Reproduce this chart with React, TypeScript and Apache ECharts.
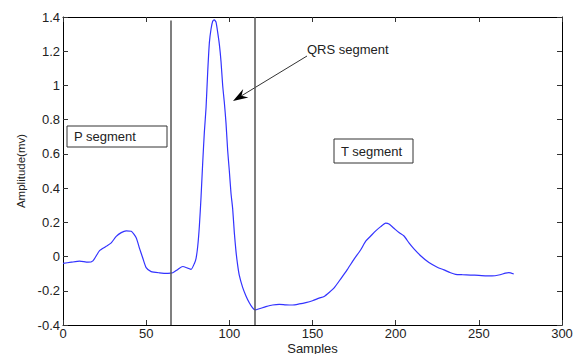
import React, { useEffect, useRef } from "react";
import * as echarts from "echarts";

const samples = [0, 5, 10, 15, 18, 22, 26, 29, 32, 35, 38, 41, 44, 46, 48, 50, 53, 58, 63, 66, 69, 72, 75, 77, 79, 80, 81, 82, 83, 84, 85, 86, 87, 88, 89, 90, 91, 92, 93, 94, 95, 96, 97, 98, 99, 100, 101, 102, 103, 104, 105, 106, 108, 110, 112, 114, 115.5, 118, 122, 126, 130, 134, 138, 142, 146, 150, 154, 157, 160, 163, 167, 171, 175, 179, 182, 185, 188, 191, 194, 196, 199, 202, 205, 208, 211, 215, 220, 225, 229, 233, 236, 240, 245, 250, 255, 258, 262, 266, 268, 271];
const amplitude = [-0.04, -0.033, -0.027, -0.033, -0.025, 0.035, 0.06, 0.08, 0.118, 0.14, 0.15, 0.148, 0.11, 0.048, -0.01, -0.065, -0.088, -0.095, -0.098, -0.095, -0.075, -0.058, -0.068, -0.075, -0.04, -0.01, 0.06, 0.18, 0.35, 0.55, 0.73, 0.87, 1.08, 1.25, 1.33, 1.375, 1.383, 1.37, 1.31, 1.24, 1.14, 1.0, 0.9, 0.78, 0.62, 0.5, 0.37, 0.28, 0.14, 0.03, -0.05, -0.11, -0.18, -0.23, -0.27, -0.3, -0.312, -0.305, -0.293, -0.283, -0.279, -0.282, -0.283, -0.277, -0.269, -0.258, -0.243, -0.233, -0.21, -0.183, -0.13, -0.075, -0.015, 0.04, 0.09, 0.12, 0.15, 0.175, 0.195, 0.19, 0.165, 0.14, 0.12, 0.08, 0.045, 0.005, -0.035, -0.062, -0.078, -0.095, -0.104, -0.106, -0.108, -0.11, -0.113, -0.113, -0.108, -0.097, -0.094, -0.102];
const segmentBounds = [65, 115];
const segmentTops = [1.38, 1.4];
const xTicks = [0, 50, 100, 150, 200, 250, 300];
const yTicks = [-0.4, -0.2, 0, 0.2, 0.4, 0.6, 0.8, 1, 1.2, 1.4];

const FONT = "Liberation Sans, Arial, sans-serif";

export default function App() {
  const ref = useRef<HTMLDivElement>(null);
  useEffect(() => {
    if (!ref.current) return;
    const chart = echarts.init(ref.current, undefined, { renderer: "svg" });
    const data = samples.map((s, i) => [s, amplitude[i]]);
    const axisLine = { show: true, onZero: false, lineStyle: { color: "#000", width: 1 } };
    const tick = { show: true, inside: true, length: 5, lineStyle: { color: "#333" } };
    const yMin = yTicks[0];
    const yMax = yTicks[yTicks.length - 1];
    const xMin = xTicks[0];
    const xMax = xTicks[xTicks.length - 1];
    chart.setOption({
      animation: false,
      backgroundColor: "#fff",
      grid: { left: 63, right: 18, top: 17, bottom: 29, containLabel: false, outerBoundsMode: "none" },
      xAxis: [
        {
          type: "value", min: xMin, max: xMax, interval: 50, position: "bottom",
          name: "Samples", nameLocation: "middle", nameGap: 17, nameMoveOverlap: false,
          nameTextStyle: { fontFamily: FONT, fontSize: 13, lineHeight: 13, color: "#222" },
          axisLine, axisTick: tick, splitLine: { show: false },
          axisLabel: { fontFamily: FONT, fontSize: 13, lineHeight: 13, color: "#222", margin: 2 },
        },
        {
          type: "value", min: xMin, max: xMax, interval: 50, position: "top",
          axisLine, axisTick: tick, splitLine: { show: false }, axisLabel: { show: false },
        },
      ],
      yAxis: [
        {
          type: "value", min: yMin, max: yMax, interval: 0.2, position: "left",
          name: "Amplitude(mv)", nameLocation: "middle", nameGap: 36, nameRotate: 90, nameMoveOverlap: false,
          nameTextStyle: { fontFamily: FONT, fontSize: 11.5, color: "#222" },
          axisLine, axisTick: tick, splitLine: { show: false },
          axisLabel: {
            fontFamily: FONT, fontSize: 13, color: "#222", margin: 3,
            formatter: (v: number) => String(Math.round(v * 10) / 10),
          },
        },
        {
          type: "value", min: yMin, max: yMax, interval: 0.2, position: "right",
          axisLine, axisTick: tick, splitLine: { show: false }, axisLabel: { show: false },
        },
      ],
      series: [
        {
          type: "line",
          data,
          showSymbol: false,
          smooth: 0.2,
          lineStyle: { color: "#3333ff", width: 1.2 },
          markLine: {
            silent: true,
            symbol: ["none", "none"],
            label: { show: false },
            lineStyle: { color: "#555", width: 1.5, type: "solid" },
            data: segmentBounds.map((b, i) => [
              { coord: [b, segmentTops[i]] },
              { coord: [b, yMin] },
            ]),
          },
        },
      ],
      graphic: [
        { type: "rect", shape: { x: 67, y: 126, width: 100, height: 21 }, style: { fill: "#fff", stroke: "#333", lineWidth: 1 } },
        { type: "text", x: 74, y: 136.5, style: { text: "P segment", fontFamily: FONT, fontSize: 13, fill: "#222", verticalAlign: "middle" } },
        { type: "rect", shape: { x: 334, y: 139, width: 79, height: 24 }, style: { fill: "#fff", stroke: "#333", lineWidth: 1 } },
        { type: "text", x: 341, y: 151, style: { text: "T segment", fontFamily: FONT, fontSize: 13, fill: "#222", verticalAlign: "middle" } },
        { type: "text", x: 307, y: 49, style: { text: "QRS segment", fontFamily: FONT, fontSize: 13, fill: "#222", verticalAlign: "middle" } },
        { type: "line", shape: { x1: 307, y1: 56, x2: 241.5, y2: 95.8 }, style: { stroke: "#333", lineWidth: 1 } },
        { type: "polygon", shape: { points: [[233, 101], [248.4, 97.5], [241.5, 95.8], [243.2, 88.9]] }, style: { fill: "#000" } },
      ],
    });
    return () => chart.dispose();
  }, []);
  return (
    <div
      ref={ref}
      style={{ position: "fixed", left: 0, top: 0, width: 580, height: 354, background: "#fff" }}
    />
  );
}
